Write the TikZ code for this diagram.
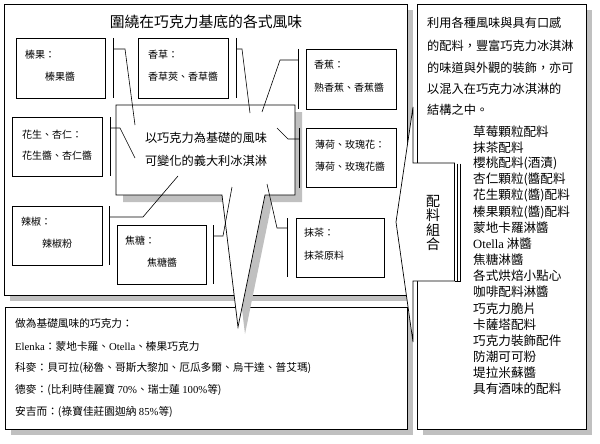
\documentclass[tikz,border=0pt]{standalone}
\usepackage{fontspec}
\setmainfont{Noto Sans CJK TC}
\newfontfamily\lat{Liberation Serif}
\definecolor{shade}{RGB}{192,192,192}
\tikzset{
  shadowfill/.style={fill=shade, draw=none},
  box/.style={draw=black, fill=white, line width=0.7pt},
  bar/.style={draw=black, line width=0.7pt},
  lead/.style={draw=black, line width=0.6pt},
  lbl/.style={anchor=west, inner sep=0pt, font=\fontsize{10}{12}\selectfont},
  btxt/.style={anchor=west, inner sep=0pt, font=\fontsize{10.7}{13}\selectfont},
  rtxt/.style={anchor=west, inner sep=0pt, font=\fontsize{12.2}{14}\selectfont},
  ltxt/.style={anchor=west, inner sep=0pt, font=\fontsize{12.6}{14}\selectfont},
  vtxt/.style={inner sep=0pt, font=\fontsize{14}{15}\selectfont},
}
\begin{document}
\begin{tikzpicture}[x=1pt,y=-1pt]
\useasboundingbox (0,0) rectangle (600,444);
% ---- outer top box
\fill[shadowfill] (10,10) rectangle (413,301);
\draw[box] (4,4) rectangle (407,295);
\node[inner sep=0pt, font=\fontsize{14.8}{16}\selectfont] (title) at (206,22) {圍繞在巧克力基底的各式風味};
% ---- bottom box
\fill[shadowfill] (11,313) rectangle (413,435);
\draw[box] (5,307) rectangle (407,429);
\node[btxt] (b1) at (15,323) {做為基礎風味的巧克力：};
\node[btxt] (b2) at (15,346) {{\lat Elenka}：蒙地卡羅、{\lat Otella}、榛果巧克力};
\node[btxt] (b3) at (15,368) {科麥：貝可拉(秘魯、哥斯大黎加、厄瓜多爾、烏干達、普艾瑪)};
\node[btxt] (b4) at (15,390) {德麥：(比利時佳麗寶 {\lat 70\%}、瑞士蓮 {\lat 100\%}等)};
\node[btxt] (b5) at (15,412) {安吉而：(祿寶佳莊園迦納 {\lat 85\%}等)};
% ---- right box
\fill[shadowfill] (423,10) rectangle (592,435);
\draw[box] (417,4) rectangle (586,429);
\node[rtxt] (p1) at (427,23) {利用各種風味與具有口感};
\node[rtxt] (p2) at (427,46) {的配料，豐富巧克力冰淇淋};
\node[rtxt] (p3) at (427,68) {的味道與外觀的裝飾，亦可};
\node[rtxt] (p4) at (427,89) {以混入在巧克力冰淇淋的};
\node[rtxt] (p5) at (427,110) {結構之中。};
\foreach \t [count=\i from 0] in {草莓顆粒配料,抹茶配料,櫻桃配料(酒漬),杏仁顆粒(醬配料,花生顆粒(醬)配料,榛果顆粒(醬)配料,蒙地卡羅淋醬,{\lat Otella} 淋醬,焦糖淋醬,各式烘焙小點心,咖啡配料淋醬,巧克力脆片,卡薩塔配料,巧克力裝飾配件,防潮可可粉,堤拉米蘇醬,具有酒味的配料}
  \node[ltxt] (li\i) at (473,{131.7+16.05*\i}) {\t};
% ---- 配料組合 wedge callout
\draw[box] (413,107) -- (396,222) -- (413,342) -- (413,281) -- (454.5,281) -- (454.5,163) -- (413,163) -- cycle;
\draw[bar] (457.5,163.5) -- (457.5,281);
\draw[bar] (460.5,163.5) -- (460.5,281) -- (454.5,281);
\node[vtxt] (v1) at (433,201) {配};
\node[vtxt] (v2) at (433,215.5) {料};
\node[vtxt] (v3) at (433,230) {組};
\node[vtxt] (v4) at (433,244.5) {合};
% ---- central wedge callout
\fill[shadowfill, shift={(7,7)}] (116,105) -- (295,105) -- (295,195) -- (265,195) -- (238,327) -- (222,195) -- (116,195) -- cycle;
\draw[box] (116,105) -- (295,105) -- (295,195) -- (265,195) -- (238,327) -- (222,195) -- (116,195) -- cycle;
\node[inner sep=0pt, font=\fontsize{12.2}{14}\selectfont] (c1) at (206,138) {以巧克力為基礎的風味};
\node[inner sep=0pt, font=\fontsize{12.2}{14}\selectfont] (c2) at (206,161) {可變化的義大利冰淇淋};
% ---- small flavour boxes
\draw[box] (16,38) rectangle (105,98);
\node[lbl] (t1a) at (25,55) {榛果：};
\node[lbl] (t1b) at (45,77) {榛果醬};
\draw[box] (138,38) rectangle (228,98);
\node[lbl] (t2a) at (148,55) {香草：};
\node[lbl] (t2b) at (148,77) {香草莢、香草醬};
\draw[box] (306,49) rectangle (396,109);
\node[lbl] (t3a) at (314,65) {香蕉：};
\node[lbl] (t3b) at (314,88) {熟香蕉、香蕉醬};
\draw[box] (306,128) rectangle (396,187);
\node[lbl] (t4a) at (315,145) {薄荷、玫瑰花：};
\node[lbl] (t4b) at (315,167) {薄荷、玫瑰花醬};
\draw[box] (12,117) rectangle (102,176);
\node[lbl] (t5a) at (22,135) {花生、杏仁：};
\node[lbl] (t5b) at (22,156) {花生醬、杏仁醬};
\draw[box] (12,206) rectangle (102,265);
\node[lbl] (t6a) at (21,222) {辣椒：};
\node[lbl] (t6b) at (42,244) {辣椒粉};
\draw[box] (117,225) rectangle (206,284);
\node[lbl] (t7a) at (125,241) {焦糖：};
\node[lbl] (t7b) at (147,263) {焦糖醬};
\draw[box] (296,218) rectangle (384,277);
\node[lbl] (t8a) at (304,233) {抹茶：};
\node[lbl] (t8b) at (304,256) {抹茶原料};
% ---- accent bars and leader lines
\draw[bar] (113,38) -- (113,98);
\draw[lead] (113,49) -- (125,49) -- (135,125);
\draw[bar] (236,38) -- (236,98);
\draw[lead] (236,49) -- (242,49) -- (250,113);
\draw[bar] (298,49) -- (298,109);
\draw[lead] (298,60) -- (280,60) -- (262,112);
\draw[bar] (299,128) -- (299,188);
\draw[lead] (299,139) -- (288,139) -- (277,128);
\draw[bar] (110,117) -- (110,176);
\draw[lead] (110,128) -- (120,128) -- (135,158);
\draw[bar] (109,206) -- (109,265);
\draw[lead] (109,217) -- (143,217) -- (178,176);
\draw[bar] (213,225) -- (213,284);
\draw[lead] (213,236) -- (223,236) -- (232,187);
\draw[bar] (287,218) -- (287,277);
\draw[lead] (287,228) -- (277,228) -- (267,184);
\end{tikzpicture}
\end{document}
